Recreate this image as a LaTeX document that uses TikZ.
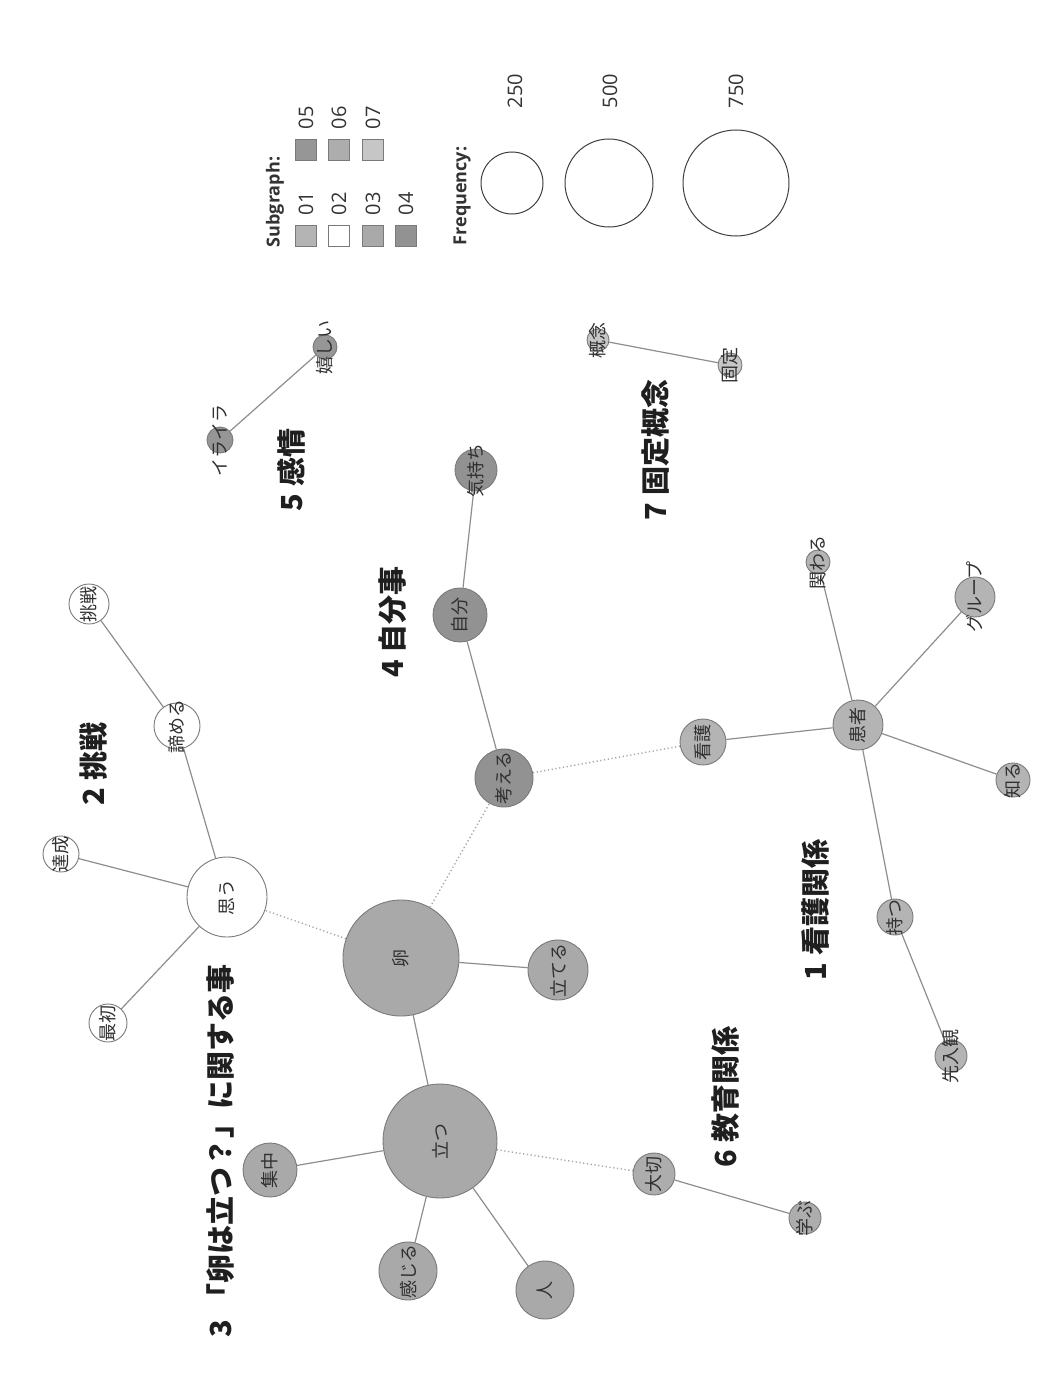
\documentclass[tikz,border=0pt]{standalone}
\usepackage{fontspec}
\setmainfont{Noto Sans CJK JP}
\newfontfamily\latf{Open Sans}
\pgfdeclarelayer{bgl}
\pgfdeclarelayer{edges}
\pgfsetlayers{bgl,edges,main}
\definecolor{gA}{HTML}{B4B4B4}
\definecolor{gB}{HTML}{FFFFFF}
\definecolor{gC}{HTML}{A9A9A9}
\definecolor{gD}{HTML}{929292}
\definecolor{gE}{HTML}{969696}
\definecolor{gF}{HTML}{ADADAD}
\definecolor{gG}{HTML}{C6C6C6}
\definecolor{bord}{HTML}{7A7A7A}
\definecolor{edgec}{HTML}{8E8E8E}
\definecolor{txt}{HTML}{303030}
\tikzset{
  bubble/.style={circle, draw=bord, line width=0.9pt, inner sep=0pt},
  nlab/.style={rotate=90, text=txt, font=\fontsize{18}{18}\selectfont, inner sep=0pt},
  title/.style={rotate=90, text=black!88, font=\fontsize{29}{29}\selectfont\bfseries, inner sep=0pt},
  legtxt/.style={rotate=90, text=black!80, font=\latf\fontsize{20}{20}\selectfont, inner sep=0pt},
  legsq/.style={rectangle, draw=bord, line width=0.9pt, minimum size=21pt, inner sep=0pt},
  legcirc/.style={circle, draw=black!75, line width=1pt, inner sep=0pt},
  edge/.style={draw=edgec, line width=1.2pt},
  weak/.style={draw=edgec!80, line width=1.4pt, dash pattern=on 1.2pt off 2.6pt},
}
\newcommand\bub[6]{%
  \node[bubble, fill=#5, minimum size=2*#4pt] (#1) at (#2,#3) {};
  \node[nlab] (#1-t) at (#1) {#6};}
\begin{document}
\begin{tikzpicture}[x=1pt,y=-1pt]
\useasboundingbox (0,0) rectangle (1057,1394);
\begin{pgfonlayer}{bgl}
\fill[white] (0,0) rectangle (1057,1394);
\end{pgfonlayer}

% ---- nodes ----
\bub{ran}{401}{958}{58}{gC}{卵}
\bub{tateru}{558}{970}{30}{gC}{立てる}
\bub{tatsu}{440}{1141}{57}{gC}{立つ}
\bub{shuchu}{270}{1170}{27}{gC}{集中}
\bub{kanjiru}{408}{1271}{29}{gC}{感じる}
\bub{hito}{545}{1290}{29}{gC}{人}
\bub{taisetsu}{654}{1174}{21}{gF}{大切}
\bub{manabu}{805}{1218}{16}{gF}{学ぶ}
\bub{omou}{227}{897}{40}{gB}{思う}
\bub{saisho}{108}{1023}{19}{gB}{最初}
\bub{tassei}{61}{854}{18}{gB}{達成}
\bub{akirameru}{177}{726}{23}{gB}{諦める}
\bub{chosen}{89}{604}{20}{gB}{挑戦}
\bub{kangaeru}{504}{778}{29}{gD}{考える}
\bub{jibun}{460}{615}{27}{gD}{自分}
\bub{kimochi}{476}{470}{21}{gD}{気持ち}
\bub{iraira}{220}{440}{13}{gE}{イライラ}
\bub{ureshii}{325}{347}{12}{gE}{嬉しい}
\bub{gainen}{598}{340}{11}{gG}{概念}
\bub{kotei}{730}{365}{12}{gG}{固定}
\bub{kango}{703}{742}{23}{gA}{看護}
\bub{kanja}{858}{725}{25}{gA}{患者}
\bub{kakawaru}{818}{562}{12}{gA}{関わる}
\bub{group}{975}{597}{20}{gA}{グループ}
\bub{shiru}{1013}{780}{17}{gA}{知る}
\bub{motsu}{895}{917}{18}{gA}{持つ}
\bub{sennyukan}{951}{1056}{16}{gA}{先入観}

% ---- edges ----
\begin{pgfonlayer}{edges}
\draw[edge] (ran) -- (tatsu);
\draw[edge] (ran) -- (tateru);
\draw[weak] (ran) -- (omou);
\draw[weak] (ran) -- (kangaeru);
\draw[edge] (tatsu) -- (shuchu);
\draw[edge] (tatsu) -- (kanjiru);
\draw[edge] (tatsu) -- (hito);
\draw[weak] (tatsu) -- (taisetsu);
\draw[edge] (taisetsu) -- (manabu);
\draw[edge] (omou) -- (saisho);
\draw[edge] (omou) -- (tassei);
\draw[edge] (omou) -- (akirameru);
\draw[edge] (akirameru) -- (chosen);
\draw[edge] (kangaeru) -- (jibun);
\draw[weak] (kangaeru) -- (kango);
\draw[edge] (jibun) -- (kimochi);
\draw[edge] (iraira) -- (ureshii);
\draw[edge] (gainen) -- (kotei);
\draw[edge] (kango) -- (kanja);
\draw[edge] (kanja) -- (kakawaru);
\draw[edge] (kanja) -- (group);
\draw[edge] (kanja) -- (shiru);
\draw[edge] (kanja) -- (motsu);
\draw[edge] (motsu) -- (sennyukan);
\end{pgfonlayer}

% ---- group titles ----
\node[title] (t3) at (221,1151) {3 「卵は立つ？」に関する事};
\node[title] (t2) at (94,764) {2 挑戦};
\node[title] (t4) at (393,622) {4 自分事};
\node[title] (t5) at (291,470) {5 感情};
\node[title] (t1) at (815,910) {1 看護関係};
\node[title] (t6) at (726,1097) {6 教育関係};
\node[title] (t7) at (656,450) {7 固定概念};

% ---- legend: subgraph ----
\node[legtxt, font=\latf\bfseries\fontsize{18}{18}\selectfont] (sgt) at (275,202) {Subgraph:};
\node[legsq, fill=gA] (s1) at (306,236) {};
\node[legsq, fill=gB] (s2) at (339,236) {};
\node[legsq, fill=gC] (s3) at (373,236) {};
\node[legsq, fill=gD] (s4) at (406,236) {};
\node[legsq, fill=gE] (s5) at (306,150) {};
\node[legsq, fill=gF] (s6) at (339,150) {};
\node[legsq, fill=gG] (s7) at (373,150) {};
\node[legtxt] (l1) at (306,204) {01};
\node[legtxt] (l2) at (339,204) {02};
\node[legtxt] (l3) at (373,204) {03};
\node[legtxt] (l4) at (406,204) {04};
\node[legtxt] (l5) at (306,118) {05};
\node[legtxt] (l6) at (339,118) {06};
\node[legtxt] (l7) at (373,118) {07};

% ---- legend: frequency ----
\node[legtxt, font=\latf\bfseries\fontsize{18}{18}\selectfont] (fqt) at (462,196) {Frequency:};
\node[legcirc, minimum size=62pt] (c1) at (512,183) {};
\node[legcirc, minimum size=88pt] (c2) at (609,183) {};
\node[legcirc, minimum size=106pt] (c3) at (736,183) {};
\node[legtxt] (f1) at (515,91) {250};
\node[legtxt] (f2) at (610,91) {500};
\node[legtxt] (f3) at (736,91) {750};
\end{tikzpicture}
\end{document}
